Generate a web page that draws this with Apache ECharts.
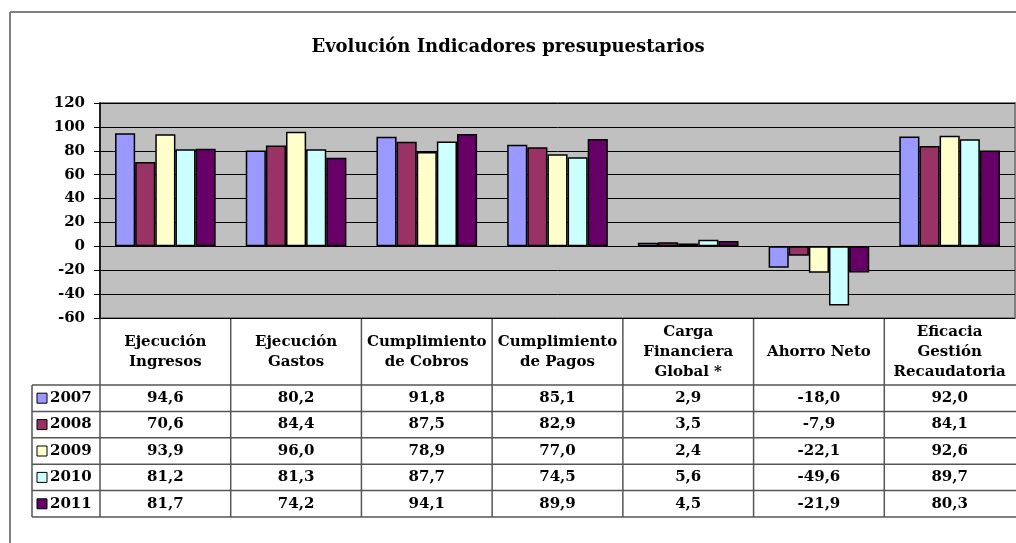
<!DOCTYPE html>
<html>
<head>
    <title>Evolución Indicadores presupuestarios</title>
    <script src="https://cdn.jsdelivr.net/npm/echarts@6/dist/echarts.min.js"></script>
</head>
<body style="margin:0;background:#fff;overflow:hidden;">
<div id="chart" style="width: 1016px; height: 543px;"></div>
<script>
    // datos
    var categories = ['Ejecución\nIngresos', 'Ejecución\nGastos', 'Cumplimiento\nde Cobros', 'Cumplimiento\nde Pagos',
        'Carga\nFinanciera\nGlobal *', 'Ahorro Neto', 'Eficacia\nGestión\nRecaudatoria'];
    var years = ['2007', '2008', '2009', '2010', '2011'];
    var v2007 = [94.6, 80.2, 91.8, 85.1, 2.9, -18.0, 92.0];
    var v2008 = [70.6, 84.4, 87.5, 82.9, 3.5, -7.9, 84.1];
    var v2009 = [93.9, 96.0, 78.9, 77.0, 2.4, -22.1, 92.6];
    var v2010 = [81.2, 81.3, 87.7, 74.5, 5.6, -49.6, 89.7];
    var v2011 = [81.7, 74.2, 94.1, 89.9, 4.5, -21.9, 80.3];
    var colors = ['#9999FF', '#993366', '#FFFFCC', '#CCFFFF', '#660066'];

    var allValues = [v2007, v2008, v2009, v2010, v2011];
    var FONT = '"DejaVu Serif", serif';

    // geometria de la tabla
    var gLeft = 100, gRight = 1015, gTop = 103, gBottom = 318;
    var catW = (gRight - gLeft) / categories.length;
    var headBottom = 385, rowH = 26.4, legLeft = 32;
    var tableBottom = headBottom + rowH * years.length;

    var graphics = [];
    function line(x1, y1, x2, y2, color, w) {
        graphics.push({ type: 'line', shape: { x1: x1, y1: y1, x2: x2, y2: y2 },
            style: { stroke: color || '#555', lineWidth: w || 1.5 }, silent: true });
    }
    function text(t, x, y, size, align) {
        graphics.push({ type: 'text', x: x, y: y, silent: true,
            style: { text: t, fill: '#000', font: 'bold ' + size + 'px ' + FONT,
                textAlign: align || 'center', textVerticalAlign: 'middle', lineHeight: 20 } });
    }

    // marco exterior
    line(10, 12, 1016, 12, '#7f7f7f', 2);
    line(10, 12, 10, 543, '#7f7f7f', 2);

    // lineas verticales de la tabla (sin la del borde derecho)
    for (var i = 0; i < categories.length; i++) {
        line(gLeft + catW * i, gBottom, gLeft + catW * i, tableBottom);
    }
    line(legLeft, headBottom, legLeft, tableBottom);
    // lineas horizontales
    for (var r = 0; r <= years.length; r++) {
        line(legLeft, headBottom + rowH * r, 1016, headBottom + rowH * r);
    }
    // cabeceras
    categories.forEach(function (c, i) {
        text(c, gLeft + catW * (i + 0.5), (gBottom + headBottom) / 2 + 1, 15);
    });
    // filas
    years.forEach(function (y, r) {
        var cy = headBottom + rowH * (r + 0.5);
        graphics.push({ type: 'rect', shape: { x: 37, y: cy - 5, width: 10, height: 10 },
            style: { fill: colors[r], stroke: '#000', lineWidth: 1 }, silent: true });
        text(y, 50, cy, 15, 'left');
        allValues[r].forEach(function (v, i) {
            text(v.toFixed(1).replace('.', ','), gLeft + catW * (i + 0.5), cy, 15);
        });
    });

    var chart = echarts.init(document.getElementById('chart'));
    var option = {
        animation: false,
        title: {
            text: 'Evolución Indicadores presupuestarios',
            left: 'center', top: 33,
            textStyle: { fontFamily: FONT, fontWeight: 'bold', fontSize: 18, color: '#000' }
        },
        grid: {
            left: gLeft, right: 1016 - gRight, top: gTop, bottom: 543 - gBottom,
            show: true, backgroundColor: '#C0C0C0', borderColor: '#808080', borderWidth: 2
        },
        xAxis: {
            type: 'category', data: categories,
            axisLine: { show: false }, axisTick: { show: false }, axisLabel: { show: false }
        },
        yAxis: {
            type: 'value', min: -60, max: 120, interval: 20,
            axisLine: { show: true, lineStyle: { color: '#000', width: 1.5 } },
            axisTick: { show: true, length: 6, lineStyle: { color: '#000' } },
            axisLabel: { fontFamily: FONT, fontWeight: 'bold', fontSize: 15, color: '#000', margin: 15 },
            splitLine: { lineStyle: { color: '#000', width: 1 } }
        },
        series: years.map(function (y, r) {
            return {
                name: y, type: 'bar', data: allValues[r],
                barGap: '0%', barCategoryGap: '23%',
                itemStyle: { color: colors[r], borderColor: '#000', borderWidth: 1.5 }
            };
        }),
        graphic: graphics
    };
    chart.setOption(option);
</script>
</body>
</html>
